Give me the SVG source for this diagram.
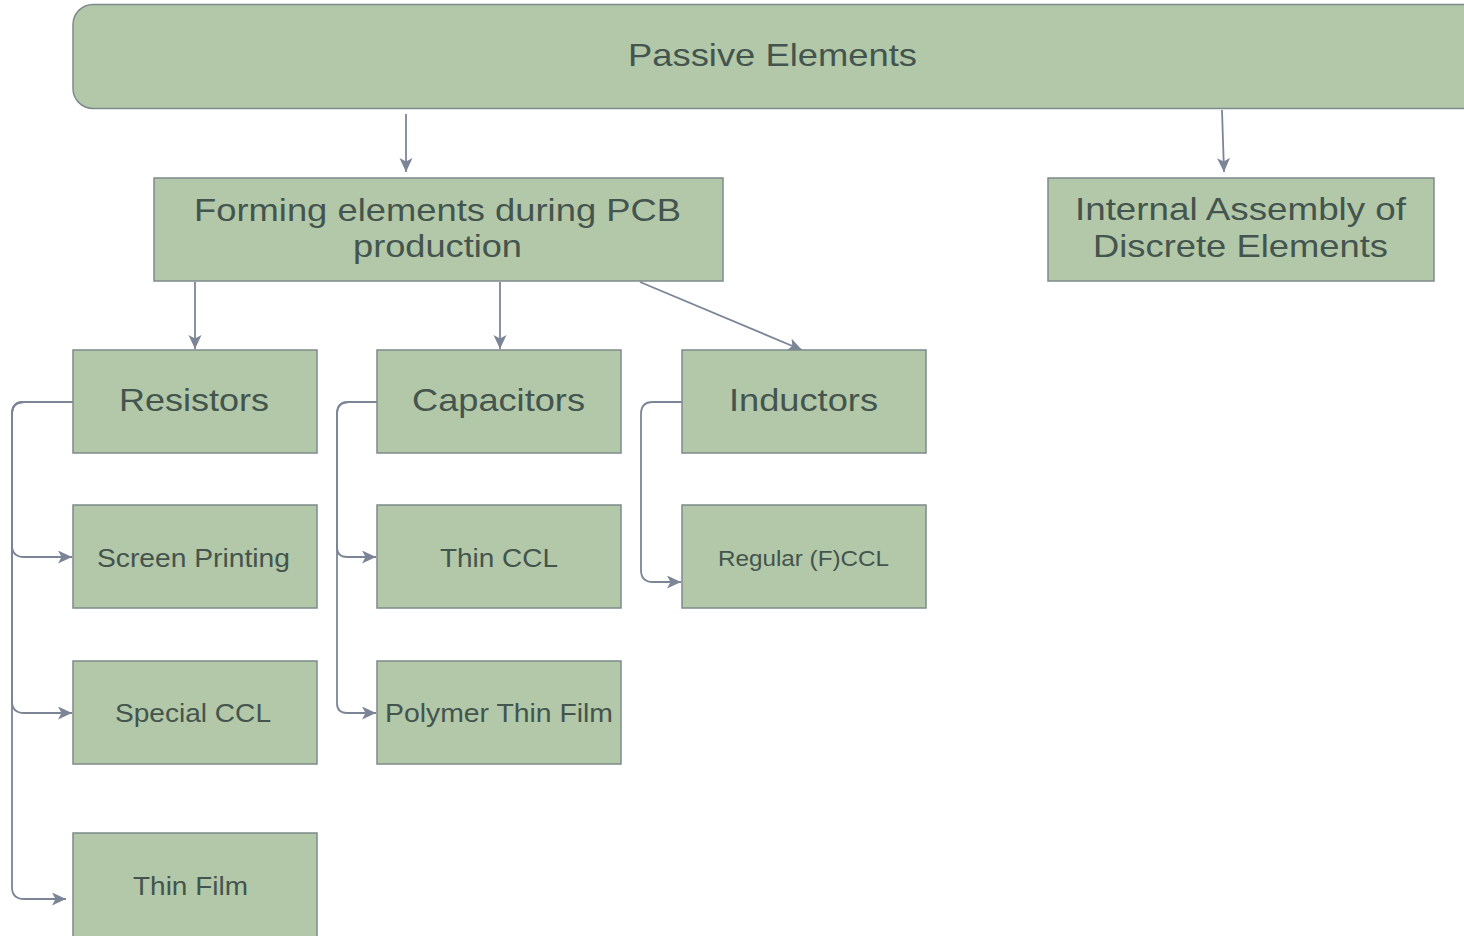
<svg xmlns="http://www.w3.org/2000/svg" width="1464" height="936" viewBox="0 0 1464 936">
<style>
.n{fill:#b2c8a8;stroke:#7e8b8c;stroke-width:1.5}
.t{font-family:"Liberation Sans",Arial,sans-serif;fill:#44544e;text-anchor:middle}
.b{font-size:32px}
.s{font-size:25px}
.x{font-size:22px}
.c{fill:none;stroke:#7b8596;stroke-width:1.8}
</style>
<defs>
<marker id="ah" markerUnits="userSpaceOnUse" markerWidth="16" markerHeight="14" refX="14" refY="6.5" orient="auto">
<path d="M0,0 L14,6.5 L0,13 L3.5,6.5 z" fill="#7b8596"/>
</marker>
</defs>
<rect width="1464" height="936" fill="#ffffff"/>
<g id="connectors">
<path class="c" d="M406,114 V172" marker-end="url(#ah)"/>
<path class="c" d="M1222,110 L1224,172" marker-end="url(#ah)"/>
<path class="c" d="M195,282 V349" marker-end="url(#ah)"/>
<path class="c" d="M500,282 V349" marker-end="url(#ah)"/>
<path class="c" d="M640,282 L802,350" marker-end="url(#ah)"/>
<path class="c" d="M73,402 H24 Q12,402 12,414 V545 Q12,557 24,557 H72" marker-end="url(#ah)"/>
<path class="c" d="M73,402 H24 Q12,402 12,414 V701 Q12,713 24,713 H72" marker-end="url(#ah)"/>
<path class="c" d="M73,402 H24 Q12,402 12,414 V887 Q12,899 24,899 H66" marker-end="url(#ah)"/>
<path class="c" d="M377,402 H349 Q337,402 337,414 V547 Q337,557 347,557 H376" marker-end="url(#ah)"/>
<path class="c" d="M377,402 H349 Q337,402 337,414 V703 Q337,713 347,713 H376" marker-end="url(#ah)"/>
<path class="c" d="M682,402 H653 Q641,402 641,414 V570 Q641,582 653,582 H681" marker-end="url(#ah)"/>
</g>
<g id="passive">
<rect class="n" x="73" y="4.5" width="1410" height="104" rx="20"/>
<text class="t b" x="772.5" y="66" textLength="289" lengthAdjust="spacingAndGlyphs">Passive Elements</text>
</g>
<g id="forming">
<rect class="n" x="154" y="178" width="569" height="103"/>
<text class="t b" x="437.5" y="221" textLength="487" lengthAdjust="spacingAndGlyphs">Forming elements during PCB</text>
<text class="t b" x="437.5" y="257" textLength="169" lengthAdjust="spacingAndGlyphs">production</text>
</g>
<g id="internal">
<rect class="n" x="1048" y="178" width="386" height="103"/>
<text class="t b" x="1240.5" y="220" textLength="331" lengthAdjust="spacingAndGlyphs">Internal Assembly of</text>
<text class="t b" x="1240.5" y="257" textLength="295" lengthAdjust="spacingAndGlyphs">Discrete Elements</text>
</g>
<g id="resistors">
<rect class="n" x="73" y="350" width="244" height="103"/>
<text class="t b" x="194" y="411" textLength="150" lengthAdjust="spacingAndGlyphs">Resistors</text>
</g>
<g id="capacitors">
<rect class="n" x="377" y="350" width="244" height="103"/>
<text class="t b" x="498.5" y="411" textLength="173" lengthAdjust="spacingAndGlyphs">Capacitors</text>
</g>
<g id="inductors">
<rect class="n" x="682" y="350" width="244" height="103"/>
<text class="t b" x="803.5" y="411" textLength="149" lengthAdjust="spacingAndGlyphs">Inductors</text>
</g>
<g id="screen-printing">
<rect class="n" x="73" y="505" width="244" height="103"/>
<text class="t s" x="193.5" y="567" textLength="193" lengthAdjust="spacingAndGlyphs">Screen Printing</text>
</g>
<g id="thin-ccl">
<rect class="n" x="377" y="505" width="244" height="103"/>
<text class="t s" x="499" y="567" textLength="118" lengthAdjust="spacingAndGlyphs">Thin CCL</text>
</g>
<g id="regular-fccl">
<rect class="n" x="682" y="505" width="244" height="103"/>
<text class="t x" x="803.5" y="566" textLength="171" lengthAdjust="spacingAndGlyphs">Regular (F)CCL</text>
</g>
<g id="special-ccl">
<rect class="n" x="73" y="661" width="244" height="103"/>
<text class="t s" x="193" y="722" textLength="156" lengthAdjust="spacingAndGlyphs">Special CCL</text>
</g>
<g id="polymer-thin-film">
<rect class="n" x="377" y="661" width="244" height="103"/>
<text class="t s" x="499" y="722" textLength="228" lengthAdjust="spacingAndGlyphs">Polymer Thin Film</text>
</g>
<g id="thin-film">
<rect class="n" x="73" y="833" width="244" height="110"/>
<text class="t s" x="190.5" y="895" textLength="115" lengthAdjust="spacingAndGlyphs">Thin Film</text>
</g>
</svg>
